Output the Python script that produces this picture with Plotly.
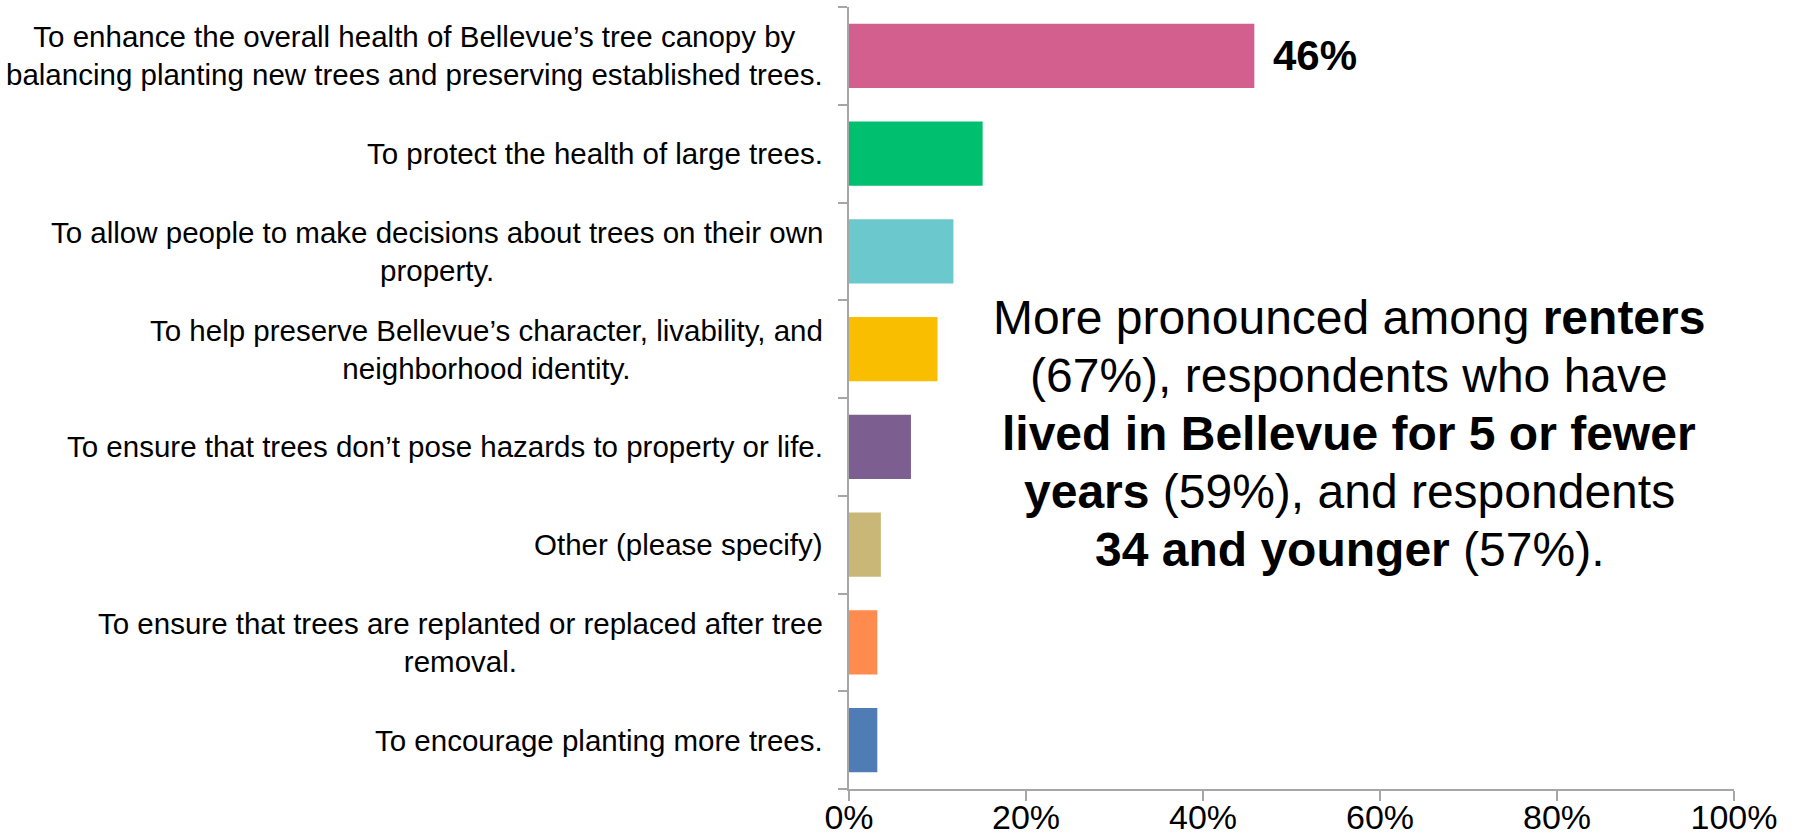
import plotly.graph_objects as go

categories = [
    "To enhance the overall health of Bellevue’s tree canopy by<br>balancing planting new trees and preserving established trees.",
    "To protect the health of large trees.",
    "To allow people to make decisions about trees on their own<br>property.",
    "To help preserve Bellevue’s character, livability, and<br>neighborhood identity.",
    "To ensure that trees don’t pose hazards to property or life.",
    "Other (please specify)",
    "To ensure that trees are replanted or replaced after tree<br>removal.",
    "To encourage planting more trees.",
]
values = [0.458, 0.151, 0.118, 0.100, 0.070, 0.036, 0.032, 0.032]
colors = ["#D35F8E", "#00BF6F", "#6BC8CD", "#F9BE00", "#7D5E90", "#C9B777", "#FF8B4F", "#4F7CB5"]
x_ticks = [0, 0.2, 0.4, 0.6, 0.8, 1.0]
x_tick_labels = ["0%", "20%", "40%", "60%", "80%", "100%"]

callout_lines = [
    "More pronounced among <b>renters</b>",
    "(67%), respondents who have",
    "<b>lived in Bellevue for 5 or fewer</b>",
    "<b>years</b> (59%), and respondents",
    "<b>34 and younger</b> (57%).",
]

FONT = "Liberation Sans, Arial, sans-serif"
y_ids = list(range(len(categories)))

fig = go.Figure()
fig.add_trace(go.Bar(
    x=values,
    y=y_ids,
    orientation="h",
    marker=dict(color=colors, line=dict(width=0)),
    hoverinfo="x",
))

annotations = []
for i, cat in enumerate(categories):
    annotations.append(dict(
        x=0, xref="paper", y=y_ids[i], yref="y",
        text=cat, showarrow=False, xanchor="right", yanchor="middle",
        align="center", xshift=-24,
        font=dict(family=FONT, size=29.5, color="#000000"),
    ))

annotations.append(dict(
    x=values[0], xref="x", y=y_ids[0], yref="y",
    text="<b>{:.0f}%</b>".format(values[0] * 100), showarrow=False,
    xanchor="left", yanchor="middle", xshift=17,
    font=dict(family=FONT, size=42, color="#000000"),
))

n = len(callout_lines)
for i, line in enumerate(callout_lines):
    annotations.append(dict(
        x=0.565, xref="paper", y=0.4546, yref="paper",
        yshift=((n - 1) / 2 - i) * 58,
        text=line, showarrow=False,
        xanchor="center", yanchor="middle", align="center",
        font=dict(family=FONT, size=48, color="#000000"),
    ))

fig.update_layout(
    width=1796, height=838,
    margin=dict(l=849, r=62, t=7, b=49, autoexpand=False),
    paper_bgcolor="white", plot_bgcolor="white",
    bargap=0.345,
    showlegend=False,
    font=dict(family=FONT, color="#000000"),
    annotations=annotations,
    xaxis=dict(
        range=[0, 1], tickvals=x_ticks, ticktext=x_tick_labels,
        showgrid=False, zeroline=False,
        showline=True, linecolor="#A6A6A6", linewidth=1.5,
        ticks="outside", ticklen=10, tickcolor="#A6A6A6", tickwidth=1.5,
        ticklabelstandoff=-13,
        tickfont=dict(family=FONT, size=34, color="#000000"),
    ),
    yaxis=dict(
        type="linear", range=[len(categories) - 0.5, -0.5],
        tickvals=[i + 0.5 for i in range(-1, len(categories))],
        showticklabels=False,
        showgrid=False, zeroline=False,
        showline=True, linecolor="#A6A6A6", linewidth=1.5,
        ticks="outside", ticklen=9, tickcolor="#A6A6A6", tickwidth=1.5,
    ),
)

fig.write_html(
    "out.html",
    config={"displayModeBar": False},
    post_script="document.body.style.margin='0';document.body.style.overflow='hidden';",
)
